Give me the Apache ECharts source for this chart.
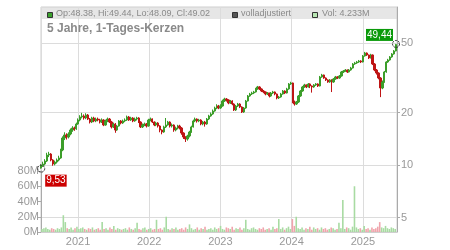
<!DOCTYPE html>
<html><head><meta charset="utf-8">
<script src="https://cdn.jsdelivr.net/npm/echarts@6/dist/echarts.min.js"></script>
<style>html,body{margin:0;padding:0;background:#fff}#c{width:450px;height:250px}</style>
</head><body><div id="c"></div>
<script>
// ---- data ----
const titleText = '5 Jahre, 1-Tages-Kerzen';
const legendOHLC = 'Op:48.38, Hi:49.44, Lo:48.09, Cl:49.02';
const legendAdj = 'volladjustiert';
const legendVol = 'Vol: 4.233M';
const startDate = [2020, 5, 26];   // first candle (UTC y, m-1, d)
const stepDays = 10;               // each candle summarises ~10 calendar days
const axisStart = [2020, 5, 25];
const axisEnd = [2025, 5, 25];
const priceTicks = [5, 10, 20, 50];
const priceMin = 4.13, priceMax = 80.5;

const opens = [9.60,9.95,10.13,10.54,11.41,11.56,10.68,10.13,10.40,10.68,
10.97,12.19,14.28,14.86,14.47,15.06,15.87,16.30,16.10,17.18,
18.11,18.85,19.10,18.60,19.35,18.35,17.64,18.60,17.88,18.35,
18.11,17.64,18.11,16.96,17.88,18.35,17.64,16.52,17.18,15.87,
16.73,17.88,17.41,17.88,18.11,18.85,18.11,18.60,17.88,18.35,
18.60,17.64,16.52,16.96,17.18,16.73,18.11,18.35,17.64,16.96,
17.41,16.73,15.87,15.46,16.52,16.96,17.64,16.73,16.96,15.87,
16.30,16.73,16.30,15.26,14.47,14.10,14.67,15.46,16.52,17.88,
18.35,17.88,18.11,17.18,17.64,17.18,18.35,19.10,19.61,20.40,
21.22,21.79,21.22,21.79,23.28,23.90,23.59,22.67,23.28,22.37,
20.67,21.79,22.37,21.51,20.13,21.22,23.28,24.87,25.53,25.87,
26.22,27.28,28.01,27.28,26.56,26.22,25.53,25.87,24.87,25.87,
26.22,25.53,24.22,24.54,25.53,26.56,25.87,27.28,29.14,29.52,
22.97,22.37,22.97,24.87,26.56,28.01,28.76,28.01,29.14,28.38,
28.01,28.76,29.14,28.38,31.96,32.81,31.54,30.72,29.92,30.72,
29.92,31.13,31.96,31.54,32.38,34.14,34.59,35.05,34.14,35.05,
35.99,37.94,38.45,38.96,39.48,38.96,42.17,43.87,42.73,41.07,
42.73,37.94,35.05,33.69,31.54,27.64,29.92,34.14,38.96,40.00,
41.62,43.30,45.05];

const closes = [9.95,10.13,10.54,11.41,11.56,10.68,10.13,10.40,10.68,10.97,
12.19,14.28,14.86,14.47,15.06,15.87,16.30,16.10,17.18,18.11,
18.85,19.10,18.60,19.35,18.35,17.64,18.60,17.88,18.35,18.11,
17.64,18.11,16.96,17.88,18.35,17.64,16.52,17.18,15.87,16.73,
17.88,17.41,17.88,18.11,18.85,18.11,18.60,17.88,18.35,18.60,
17.64,16.52,16.96,17.18,16.73,18.11,18.35,17.64,16.96,17.41,
16.73,15.87,15.46,16.52,16.96,17.64,16.73,16.96,15.87,16.30,
16.73,16.30,15.26,14.47,14.10,14.67,15.46,16.52,17.88,18.35,
17.88,18.11,17.18,17.64,17.18,18.35,19.10,19.61,20.40,21.22,
21.79,21.22,21.79,23.28,23.90,23.59,22.67,23.28,22.37,20.67,
21.79,22.37,21.51,20.13,21.22,23.28,24.87,25.53,25.87,26.22,
27.28,28.01,27.28,26.56,26.22,25.53,25.87,24.87,25.87,26.22,
25.53,24.22,24.54,25.53,26.56,25.87,27.28,29.14,29.52,22.97,
22.37,22.97,24.87,26.56,28.01,28.76,28.01,29.14,28.38,28.01,
28.76,29.14,28.38,31.96,32.81,31.54,30.72,29.92,30.72,29.92,
31.13,31.96,31.54,32.38,34.14,34.59,35.05,34.14,35.05,35.99,
37.94,38.45,38.96,39.48,38.96,42.17,43.87,42.73,41.07,42.73,
37.94,35.05,33.69,31.54,27.64,29.92,34.14,38.96,40.00,41.62,
43.30,45.05,49.02];

const lows = [9.53,9.75,9.95,10.40,11.10,10.50,9.90,9.95,10.20,10.50,
10.85,12.00,13.90,14.00,14.20,14.80,15.50,15.70,15.90,17.00,
17.80,18.50,18.20,18.30,18.10,17.30,17.40,17.60,17.60,17.80,
17.30,17.40,16.70,16.80,17.60,17.40,16.20,16.30,15.30,15.70,
16.60,17.10,17.20,17.60,17.90,17.90,17.90,17.60,17.70,18.00,
17.40,16.30,16.30,16.70,16.40,16.60,17.80,17.40,16.70,16.70,
16.40,15.40,15.00,15.30,16.30,16.80,16.40,16.40,15.50,15.60,
16.00,16.00,14.90,14.10,13.55,13.80,14.40,15.30,16.40,17.60,
17.50,17.60,16.90,16.90,16.60,17.00,18.10,18.90,19.40,20.20,
20.90,20.90,21.00,21.60,23.00,23.10,22.30,22.40,22.00,20.40,
20.40,21.50,21.20,19.87,19.90,21.00,23.10,24.60,25.20,25.50,
26.00,27.00,26.90,26.20,25.80,25.10,25.20,24.40,24.60,25.50,
25.10,23.80,23.90,24.30,25.30,25.50,25.70,27.00,28.80,22.60,
21.90,22.10,22.70,24.60,26.30,27.70,27.60,27.80,27.60,26.00,
27.70,28.40,28.00,28.20,31.60,31.20,30.30,29.60,29.60,26.20,
29.60,30.80,31.10,31.20,32.10,33.70,34.20,33.70,33.90,34.70,
35.70,37.50,38.00,38.50,38.40,38.70,41.80,42.20,40.50,40.80,
37.40,34.50,33.00,31.00,24.50,27.20,29.60,33.80,38.50,39.60,
41.20,42.90,44.80];

const highs = [10.10,10.45,10.80,11.75,11.90,11.70,10.80,10.60,10.90,11.30,
12.40,14.60,15.40,15.20,15.40,16.20,16.70,16.60,17.50,18.50,
19.30,19.90,19.50,19.80,19.60,18.60,18.90,18.90,18.70,18.70,
18.40,18.50,18.30,18.20,18.70,18.60,17.90,17.50,17.40,17.00,
18.10,18.10,18.20,18.50,19.20,19.10,18.90,18.80,18.70,18.90,
18.80,17.80,17.30,17.50,17.40,18.40,18.70,18.50,17.80,17.70,
17.60,16.90,16.00,16.80,18.60,17.90,17.80,17.30,17.10,16.60,
17.00,17.00,16.50,15.40,14.60,14.90,15.70,16.80,18.20,18.70,
18.50,18.40,18.30,17.90,17.90,18.60,19.40,20.00,20.80,21.60,
22.30,22.10,22.30,23.70,24.30,24.20,23.80,23.60,23.50,22.60,
22.10,22.70,22.60,21.70,21.50,23.60,25.20,25.90,26.30,26.60,
27.70,28.40,28.30,27.50,26.90,26.40,26.20,26.00,26.20,26.60,
26.40,25.70,24.90,25.90,26.90,26.80,27.70,29.50,30.00,29.70,
23.40,23.30,25.20,26.90,28.40,29.20,29.00,29.50,29.40,28.60,
29.10,29.50,29.40,32.40,33.30,33.00,31.80,31.00,31.10,31.00,
31.50,32.40,32.30,32.80,34.60,35.00,35.50,35.30,35.50,36.50,
38.40,39.00,39.50,40.00,39.90,42.70,44.50,44.20,43.00,43.40,
43.00,38.40,35.50,34.00,31.90,30.50,34.60,39.40,40.60,42.10,
43.80,45.60,49.44];

const volumesM = [4,5,6,4,3,5,4,3,5,4,
6,22,13,5,4,6,3,5,7,4,
5,6,4,3,5,4,6,3,4,5,
3,13,4,5,3,6,4,8,3,5,
4,3,4,5,3,6,4,3,5,12,
4,3,5,6,3,4,5,3,4,16,
4,5,3,6,20,4,3,5,4,6,
3,4,5,3,6,4,10,5,3,4,
6,3,5,4,7,3,4,5,3,6,
4,5,8,4,3,6,5,4,7,3,
5,4,6,3,5,16,4,3,5,6,
4,3,5,4,6,3,4,5,3,7,
4,5,17,4,6,3,5,7,4,17,
8,20,5,4,6,3,5,4,7,3,
6,4,5,3,6,4,5,3,4,6,
5,3,4,12,5,42,4,6,5,3,
7,60,6,4,5,3,8,4,5,3,
6,4,5,7,13,6,5,8,5,4,
6,5,4];
const volumeTicks = {min: 0, max: 80, interval: 20};

// ---- styles ----
const FONT = "'Liberation Sans', Arial, sans-serif";
const UP = '#3c9e2a', DOWN = '#bf1515';
const VOL_UP = '#a8dba2', VOL_DOWN = '#f0a4ac';
const AXIS_TXT = '#999', GRID = '#dcdcdc';

const DAY = 86400000;
const t0 = Date.UTC(startDate[0], startDate[1], startDate[2]);
const n = Math.min(opens.length, closes.length, lows.length, highs.length, volumesM.length);
const candles = [], vols = [];
for (let i = 0; i < n; i++) {
  const t = t0 + i * stepDays * DAY;
  candles.push([t, opens[i], closes[i], lows[i], highs[i]]);
  vols.push({value: [t, volumesM[i]], itemStyle: {color: closes[i] >= opens[i] ? VOL_UP : VOL_DOWN}});
}
const fmt = v => v.toFixed(2).replace('.', ',');

const chart = echarts.init(document.getElementById('c'), null, {renderer: 'canvas', width: 450, height: 250});
chart.setOption({
  animation: false,
  textStyle: {fontFamily: FONT},
  grid: [
    {left: 41, right: 53, top: 7, bottom: 18, show: true, borderColor: '#cfcfcf', borderWidth: 1},
    {left: 41, right: 53, top: 171, bottom: 18}
  ],
  xAxis: [
    {type: 'time', gridIndex: 0, min: Date.UTC(...axisStart), max: Date.UTC(...axisEnd),
     axisLine: {show: true, lineStyle: {color: '#cfcfcf'}}, axisTick: {show: false},
     axisLabel: {formatter: '{yyyy}', color: AXIS_TXT, fontSize: 11, margin: 4, showMinLabel: false, showMaxLabel: false, fontFamily: FONT},
     splitLine: {show: true, lineStyle: {color: GRID, width: 1}}},
    {type: 'time', gridIndex: 1, min: Date.UTC(...axisStart), max: Date.UTC(...axisEnd), show: false}
  ],
  yAxis: [
    {type: 'log', gridIndex: 0, position: 'right', logBase: 10, min: priceMin, max: priceMax,
     axisLine: {show: true, lineStyle: {color: '#aaa'}},
     axisTick: {show: true, length: 3, customValues: priceTicks, lineStyle: {color: '#aaa'}},
     axisLabel: {customValues: priceTicks, color: AXIS_TXT, fontSize: 11, margin: 4, fontFamily: FONT},
     splitLine: {show: true, lineStyle: {color: GRID, width: 1}}},
    {type: 'value', gridIndex: 1, position: 'left', min: volumeTicks.min, max: volumeTicks.max, interval: volumeTicks.interval,
     axisLine: {show: true, lineStyle: {color: '#aaa'}},
     axisTick: {show: true, length: 3, lineStyle: {color: '#aaa'}},
     axisLabel: {formatter: '{value}M', color: AXIS_TXT, fontSize: 11, margin: 2, fontFamily: FONT},
     splitLine: {show: false}}
  ],
  series: [
    {type: 'bar', xAxisIndex: 1, yAxisIndex: 1, data: vols, barWidth: 1.6, z: 1},
    {type: 'candlestick', xAxisIndex: 0, yAxisIndex: 0, data: candles, barWidth: 1.8, z: 3,
     itemStyle: {color: UP, color0: DOWN, borderColor: UP, borderColor0: DOWN, borderWidth: 1},
     markPoint: {
       symbol: 'circle', symbolSize: 7, z: 10,
       itemStyle: {color: 'rgba(255,255,255,0)', borderColor: '#222', borderWidth: 1, borderType: [2, 1]},
       data: [
         {type: 'min', valueDim: 'lowest',
          label: {show: true, formatter: p => fmt(p.value), position: [8, 10], align: 'left', verticalAlign: 'top',
                  color: '#fff', fontSize: 10, backgroundColor: '#cc0000', padding: [1, 1, 1, 1], fontFamily: FONT}},
         {type: 'max', valueDim: 'highest',
          label: {show: true, formatter: p => fmt(p.value), position: [1, 1], align: 'right', verticalAlign: 'bottom',
                  color: '#fff', fontSize: 10, backgroundColor: '#0a9a0a', padding: [1, 1, 1, 1], fontFamily: FONT}}
       ]
     }}
  ],
  graphic: [
    {type: 'rect', left: 41, top: 7, z: -10, shape: {width: 356, height: 12}, style: {fill: '#e6e6e6'}},
    {type: 'rect', left: 47, top: 12, z: 20, shape: {width: 5, height: 5}, style: {fill: '#3aa12c', stroke: '#333', lineWidth: 1}},
    {type: 'text', left: 56, top: 9, z: 20, style: {text: legendOHLC, fill: '#8a8a8a', font: '9px ' + FONT}},
    {type: 'rect', left: 232, top: 12, z: 20, shape: {width: 5, height: 5}, style: {fill: '#555', stroke: '#333', lineWidth: 1}},
    {type: 'text', left: 241, top: 9, z: 20, style: {text: legendAdj, fill: '#8a8a8a', font: '9px ' + FONT}},
    {type: 'rect', left: 312, top: 12, z: 20, shape: {width: 5, height: 5}, style: {fill: '#b8e6b2', stroke: '#333', lineWidth: 1}},
    {type: 'text', left: 322, top: 9, z: 20, style: {text: legendVol, fill: '#8a8a8a', font: '9px ' + FONT}},
    {type: 'text', left: 47, top: 23, z: 20, style: {text: titleText, fill: '#8a8a8a', font: 'bold 12px ' + FONT}}
  ]
});
</script>
</body></html>
